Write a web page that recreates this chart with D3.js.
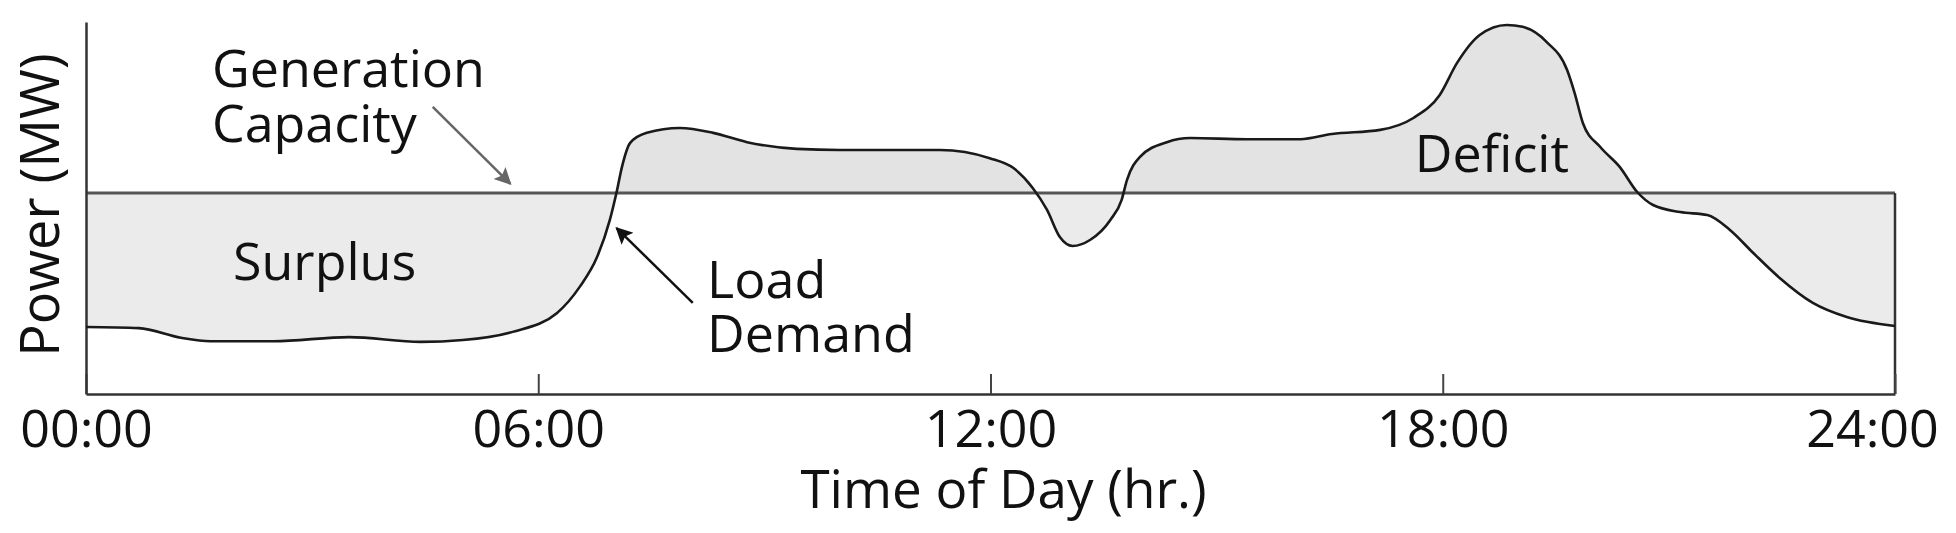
<!DOCTYPE html>
<html>
<head>
<meta charset="utf-8">
<script src="https://cdn.jsdelivr.net/npm/d3@7"></script>
<style>
  html, body { margin: 0; padding: 0; background: #fff; }
  svg { display: block; }
  text { font-family: "Open Sans", "Noto Sans", sans-serif; fill: #111; }
</style>
</head>
<body>
<div id="chart"></div>
<script>
// ---- data ----
const hours = [0, 0.70, 1.26, 1.65, 2.49, 3.49, 4.44, 5.00, 5.66, 6.25, 6.55, 6.78, 6.95, 7.04, 7.11, 7.22, 7.44, 7.88, 8.32, 8.77, 9.43, 10.00, 10.80, 11.33, 11.99, 12.30, 12.56, 12.75, 12.92, 13.09, 13.32, 13.59, 13.74, 13.81, 13.98, 14.34, 14.65, 15.40, 16.11, 16.53, 17.17, 17.61, 17.96, 18.19, 18.49, 18.85, 19.06, 19.38, 19.65, 19.75, 19.86, 20.09, 20.35, 20.58, 20.79, 21.15, 21.51, 21.81, 22.12, 22.47, 22.91, 23.36, 24.00];
const loadDemand = [18.0, 17.7, 15.1, 14.2, 14.2, 15.3, 14.0, 14.5, 16.7, 21.8, 28.8, 36.8, 46.8, 54.3, 61.0, 67.5, 70.2, 71.5, 70.2, 67.7, 65.9, 65.6, 65.6, 65.6, 63.4, 60.8, 55.4, 49.5, 42.2, 39.8, 41.4, 46.8, 52.2, 57.5, 63.7, 67.7, 68.8, 68.5, 68.5, 69.9, 71.0, 74.2, 80.4, 89.0, 96.5, 99.2, 98.7, 94.6, 87.1, 80.9, 72.8, 66.4, 61.0, 54.3, 50.8, 48.9, 48.1, 44.1, 37.9, 31.2, 24.5, 20.7, 18.3];
const generationCapacity = 54;
const tickHours = [0, 6, 12, 18, 24];
const tickLabels = ["00:00", "06:00", "12:00", "18:00", "24:00"];
const xTitle = "Time of Day (hr.)";
const yTitle = "Power (MW)";
// area labels
const labelNames = ["Surplus", "Deficit"];
const labelHours = [1.95, 17.63];
const labelValues = [30.6, 59.7];

const W = 1956, H = 533;
const svg = d3.select("#chart").append("svg").attr("width", W).attr("height", H);

const x = d3.scaleLinear().domain([0, 24]).range([86, 1895]);
const y = d3.scaleLinear().domain([0, 100]).range([394, 22]);

const data = hours.map((h, i) => ({ h, v: loadDemand[i] }));

const defs = svg.append("defs");
defs.append("clipPath").attr("id", "above").append("rect")
  .attr("x", x(0)).attr("y", 0).attr("width", x(24) - x(0)).attr("height", y(generationCapacity));
defs.append("clipPath").attr("id", "below").append("rect")
  .attr("x", x(0)).attr("y", y(generationCapacity)).attr("width", x(24) - x(0)).attr("height", y(0) - y(generationCapacity));

function marker(id, color) {
  defs.append("marker").attr("id", id)
    .attr("viewBox", "0 0 10 10").attr("refX", 9).attr("refY", 5)
    .attr("markerUnits", "userSpaceOnUse").attr("markerWidth", 22).attr("markerHeight", 17)
    .attr("orient", "auto")
    .append("path").attr("d", "M0,0 L10,5 L0,10 L2,5 Z").attr("fill", color);
}
marker("arrGray", "#666");
marker("arrBlack", "#111");

const area = d3.area().x(d => x(d.h)).y0(y(generationCapacity)).y1(d => y(d.v)).curve(d3.curveMonotoneX);
const line = d3.line().x(d => x(d.h)).y(d => y(d.v)).curve(d3.curveMonotoneX);

svg.append("path").datum(data).attr("d", area).attr("fill", "#e3e3e3").attr("clip-path", "url(#above)");
svg.append("path").datum(data).attr("d", area).attr("fill", "#ebebeb").attr("clip-path", "url(#below)");

// capacity line
svg.append("line")
  .attr("x1", x(0)).attr("x2", x(24))
  .attr("y1", y(generationCapacity)).attr("y2", y(generationCapacity))
  .attr("stroke", "#555").attr("stroke-width", 3);

// right border (from capacity down)
svg.append("line")
  .attr("x1", x(24)).attr("x2", x(24))
  .attr("y1", y(generationCapacity)).attr("y2", y(0))
  .attr("stroke", "#333").attr("stroke-width", 2.5);

// axes
const xAxis = d3.axisBottom(x).tickValues(tickHours)
  .tickFormat((d, i) => tickLabels[i])
  .tickSizeInner(-20).tickSizeOuter(0).tickPadding(16);
const gx = svg.append("g").attr("transform", `translate(0,${y(0)})`).call(xAxis);
gx.select(".domain").attr("stroke", "#333").attr("stroke-width", 2.5);
gx.selectAll(".tick line").attr("stroke", "#444").attr("stroke-width", 2);
gx.selectAll(".tick text").attr("font-size", 52).attr("fill", "#111")
  .attr("font-family", "Open Sans")
  .attr("dx", (d, i) => i === tickHours.length - 1 ? -23 : 0);

const yAxis = d3.axisLeft(y).tickValues([]).tickSizeOuter(0);
const gy = svg.append("g").attr("transform", `translate(${x(0)},0)`).call(yAxis);
gy.select(".domain").attr("stroke", "#333").attr("stroke-width", 2.5);

// load demand line
svg.append("path").datum(data).attr("d", line)
  .attr("fill", "none").attr("stroke", "#1a1a1a").attr("stroke-width", 2.6);

// titles
svg.append("text").attr("x", (x(0) + x(24)) / 2 + 13).attr("y", 508)
  .attr("text-anchor", "middle").attr("font-size", 53).text(xTitle);
svg.append("text").attr("transform", `translate(59,${(y(0) + y(100)) / 2 - 3}) rotate(-90)`)
  .attr("text-anchor", "middle").attr("font-size", 54).text(yTitle);

// area labels
labelNames.forEach((t, i) => {
  svg.append("text").attr("x", x(labelHours[i])).attr("y", y(labelValues[i]))
    .attr("font-size", 52).text(t);
});

// Generation Capacity annotation
svg.append("text").attr("font-size", 52).attr("x", x(1.67)).attr("y", y(82.5)).text("Generation");
svg.append("text").attr("font-size", 52).attr("x", x(1.67)).attr("y", y(67.7)).text("Capacity");
svg.append("line")
  .attr("x1", x(4.60)).attr("y1", y(77.2)).attr("x2", x(5.63)).attr("y2", y(56.5))
  .attr("stroke", "#666").attr("stroke-width", 2.5).attr("marker-end", "url(#arrGray)");

// Load Demand annotation
svg.append("text").attr("font-size", 52).attr("x", x(8.24)).attr("y", y(25.8)).text("Load");
svg.append("text").attr("font-size", 52).attr("x", x(8.24)).attr("y", y(11.3)).text("Demand");
svg.append("line")
  .attr("x1", x(8.05)).attr("y1", y(24.5)).attr("x2", x(7.04)).attr("y2", y(44.6))
  .attr("stroke", "#111").attr("stroke-width", 2.5).attr("marker-end", "url(#arrBlack)");
</script>
</body>
</html>
